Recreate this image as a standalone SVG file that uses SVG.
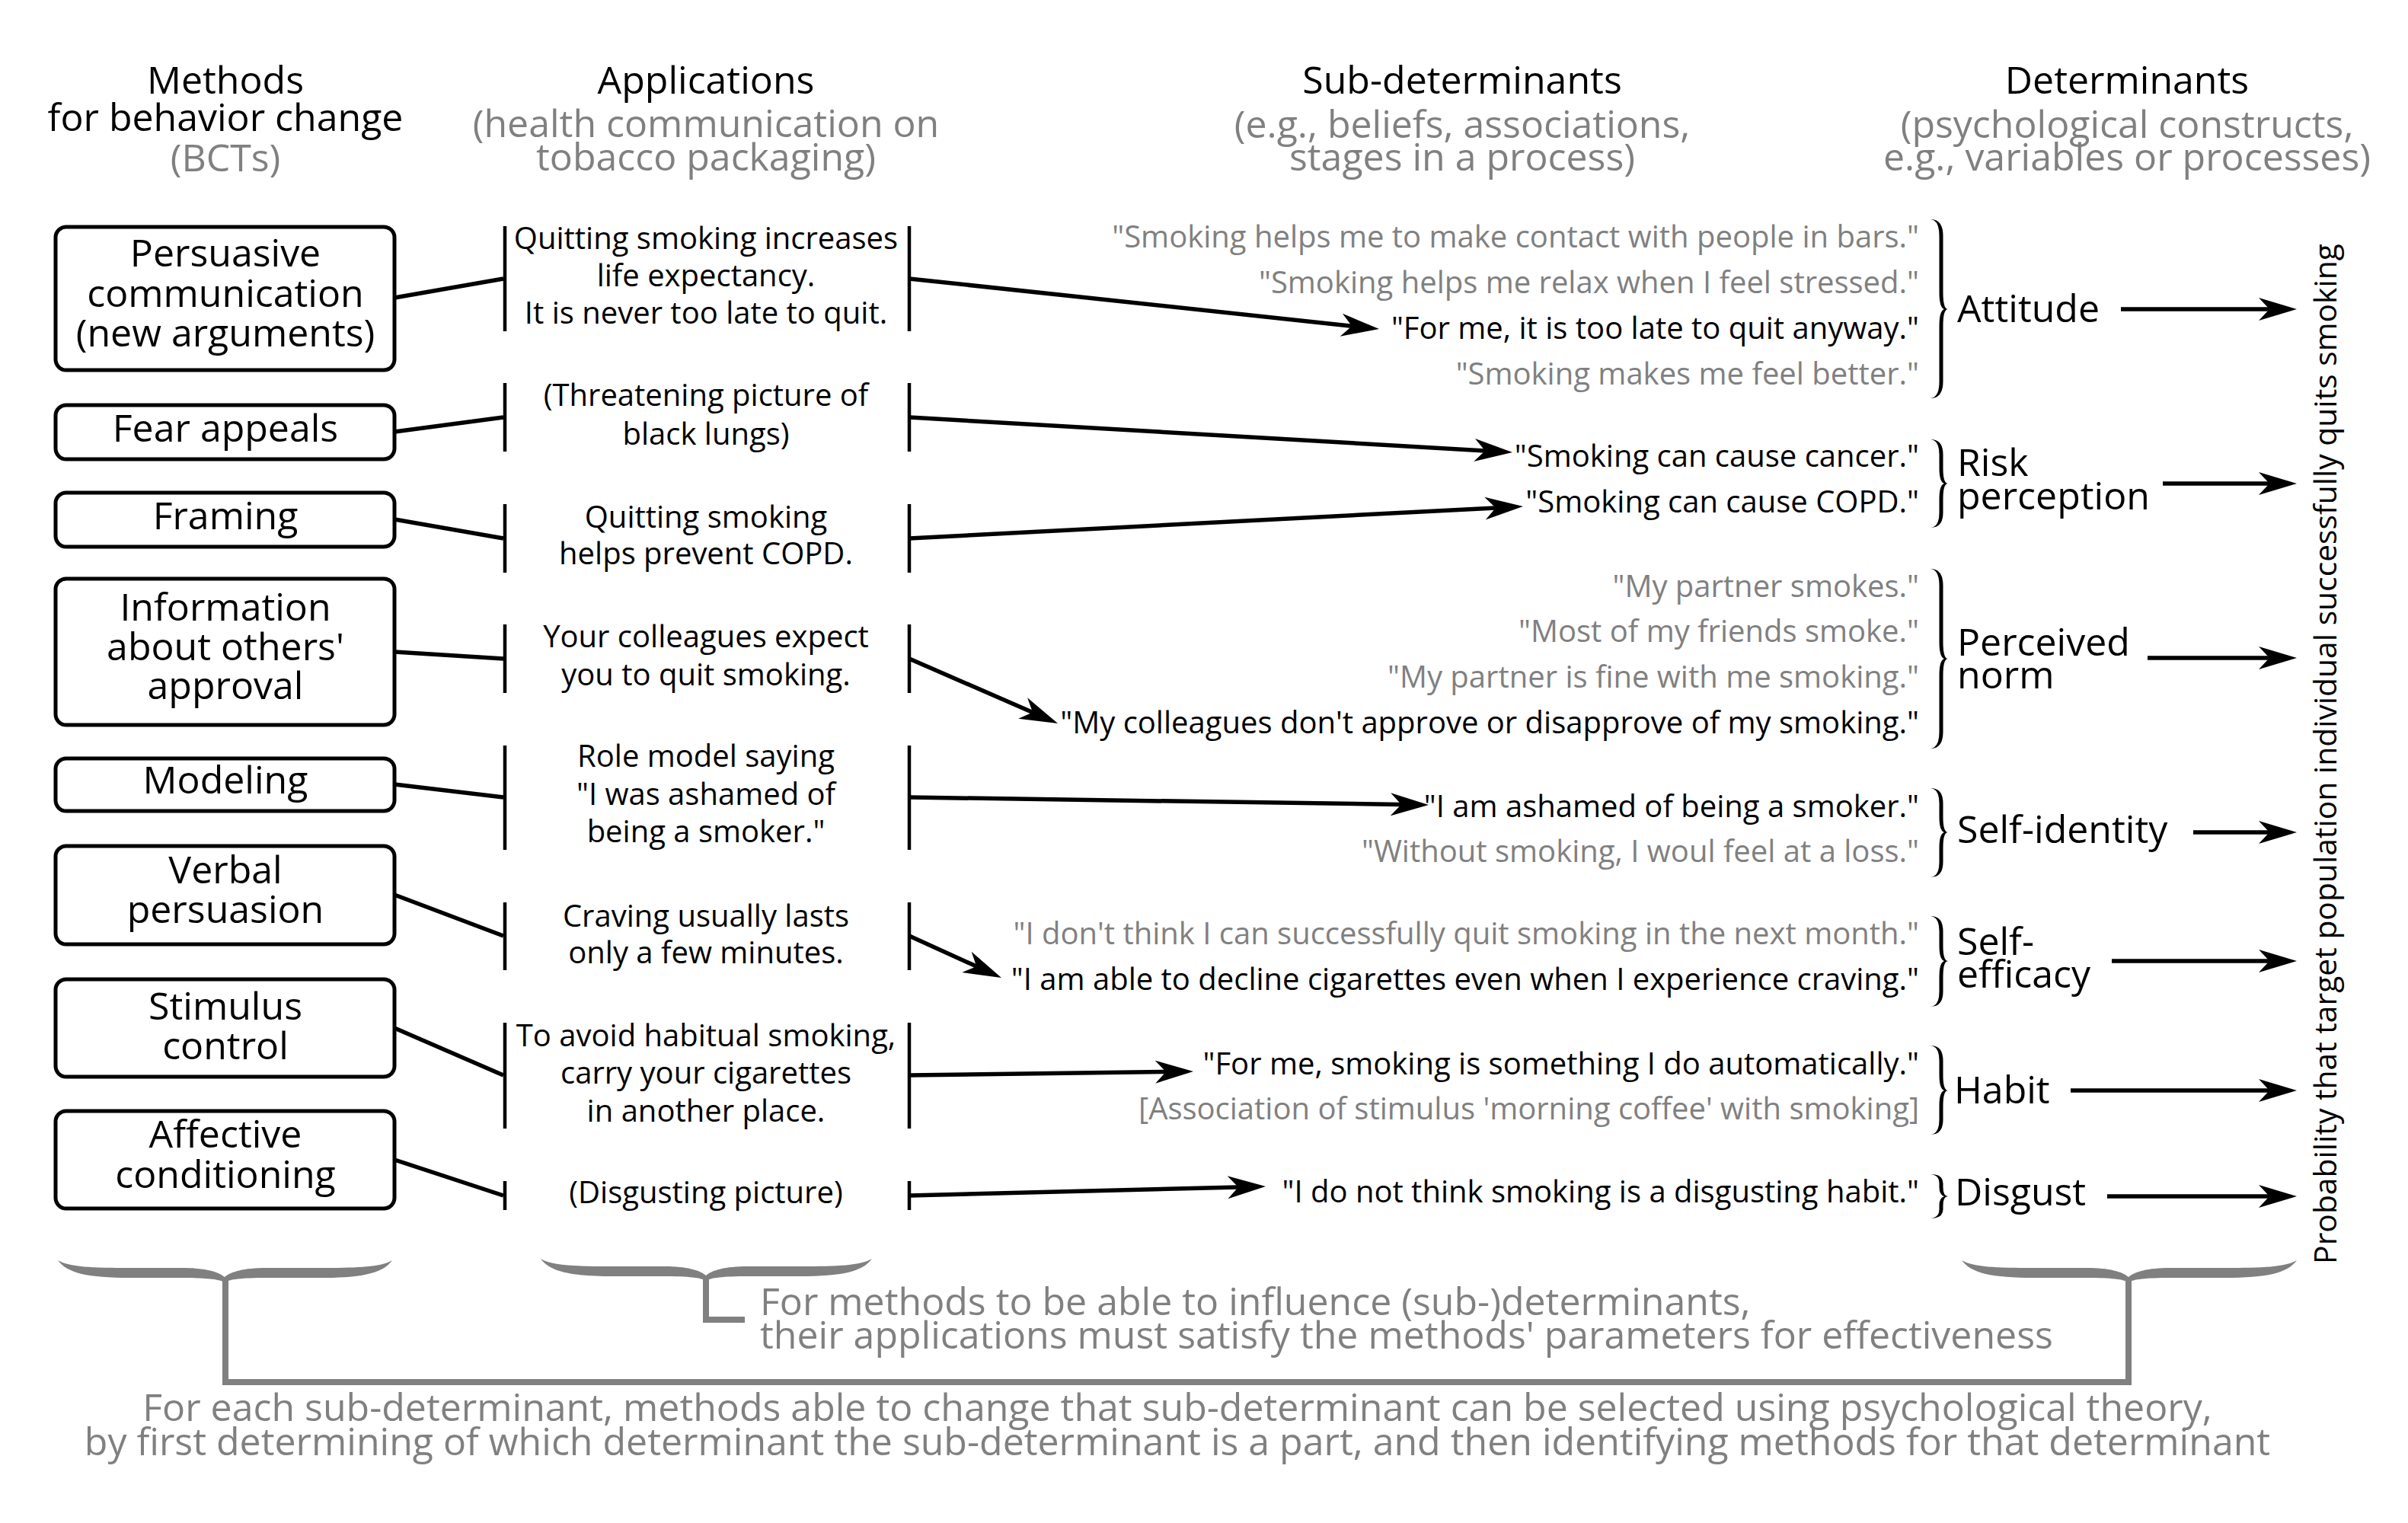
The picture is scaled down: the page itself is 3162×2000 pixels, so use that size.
<svg xmlns="http://www.w3.org/2000/svg" width="3162" height="2000" viewBox="0 0 3162 2000">
<style>
text{font-family:"Open Sans","Noto Sans",sans-serif;fill:#000}
.h{font-size:50px;text-anchor:middle}
.g{fill:#808080}
.m{font-size:50px;text-anchor:middle}
.a{font-size:40px;text-anchor:middle}
.s{font-size:40px;text-anchor:end}
.d{font-size:50px}
.box{fill:#fff;stroke:#000;stroke-width:5}
.bar{stroke:#000;stroke-width:4.5}
.ln{stroke:#000;stroke-width:5.5;fill:none}
.ar{stroke:#000;stroke-width:5.5;fill:none;marker-end:url(#ah)}
.br{fill:#000}
.gb{fill:#808080}
.gl{stroke:#808080;stroke-width:8;fill:none}
.note{font-size:50px;fill:#808080}
</style>
<defs>
<marker id="ah" markerUnits="userSpaceOnUse" markerWidth="60" markerHeight="40" refX="14" refY="20" orient="auto" viewBox="0 0 60 40">
<path d="M0,5 L50,20 L0,35 L14,20 Z" fill="#000"/>
</marker>
</defs>
<rect width="3162" height="2000" fill="#fff"/>

<g id="headings">
<text class="h" x="296" y="123">Methods</text>
<text class="h" x="296" y="172">for behavior change</text>
<text class="h g" x="296" y="225">(BCTs)</text>
<text class="h" x="927" y="123">Applications</text>
<text class="h g" x="927" y="180">(health communication on</text>
<text class="h g" x="927" y="224">tobacco packaging)</text>
<text class="h" x="1920" y="123">Sub-determinants</text>
<text class="h g" x="1920" y="181">(e.g., beliefs, associations,</text>
<text class="h g" x="1920" y="224">stages in a process)</text>
<text class="h" x="2793" y="123">Determinants</text>
<text class="h g" x="2793" y="181">(psychological constructs,</text>
<text class="h g" x="2793" y="224">e.g., variables or processes)</text>
</g>

<g id="connectors">
<line class="ln" x1="518" y1="391" x2="661" y2="366"/>
<line class="ln" x1="518" y1="567" x2="661" y2="548"/>
<line class="ln" x1="518" y1="682" x2="661" y2="707"/>
<line class="ln" x1="518" y1="856" x2="661" y2="865"/>
<line class="ln" x1="518" y1="1030" x2="661" y2="1047"/>
<line class="ln" x1="518" y1="1175" x2="661" y2="1229"/>
<line class="ln" x1="518" y1="1350" x2="661" y2="1412"/>
<line class="ln" x1="518" y1="1523" x2="661" y2="1570"/>
<line class="ar" x1="1194" y1="366" x2="1775.2" y2="428.2"/>
<line class="ar" x1="1194" y1="548" x2="1950.1" y2="591.9"/>
<line class="ar" x1="1194" y1="707" x2="1964" y2="666.9"/>
<line class="ar" x1="1194" y1="865" x2="1356" y2="935.6"/>
<line class="ar" x1="1194" y1="1047" x2="1840" y2="1056.5"/>
<line class="ar" x1="1194" y1="1229" x2="1282.2" y2="1269.1"/>
<line class="ar" x1="1194" y1="1412" x2="1531" y2="1407.5"/>
<line class="ar" x1="1194" y1="1570" x2="1626" y2="1558.9"/>
<line class="ar" x1="2785" y1="406" x2="2980" y2="406"/>
<line class="ar" x1="2840" y1="635" x2="2980" y2="635"/>
<line class="ar" x1="2820" y1="864" x2="2980" y2="864"/>
<line class="ar" x1="2880" y1="1093" x2="2980" y2="1093"/>
<line class="ar" x1="2773" y1="1262" x2="2980" y2="1262"/>
<line class="ar" x1="2719" y1="1432" x2="2980" y2="1432"/>
<line class="ar" x1="2767" y1="1571" x2="2980" y2="1571"/>
</g>

<g id="method-persuasive">
<rect class="box" x="73" y="298" width="445" height="188" rx="14"/>
<text class="m" x="296" y="350">Persuasive</text>
<text class="m" x="296" y="403">communication</text>
<text class="m" x="296" y="455">(new arguments)</text>
</g>
<g id="method-fear">
<rect class="box" x="73" y="532" width="445" height="71" rx="14"/>
<text class="m" x="296" y="580">Fear appeals</text>
</g>
<g id="method-framing">
<rect class="box" x="73" y="647" width="445" height="71" rx="14"/>
<text class="m" x="296" y="695">Framing</text>
</g>
<g id="method-information">
<rect class="box" x="73" y="760" width="445" height="192" rx="14"/>
<text class="m" x="296" y="815">Information</text>
<text class="m" x="296" y="867">about others'</text>
<text class="m" x="296" y="918">approval</text>
</g>
<g id="method-modeling">
<rect class="box" x="73" y="996" width="445" height="69" rx="14"/>
<text class="m" x="296" y="1042">Modeling</text>
</g>
<g id="method-verbal">
<rect class="box" x="73" y="1111" width="445" height="129" rx="14"/>
<text class="m" x="296" y="1160">Verbal</text>
<text class="m" x="296" y="1212">persuasion</text>
</g>
<g id="method-stimulus">
<rect class="box" x="73" y="1286" width="445" height="128" rx="14"/>
<text class="m" x="296" y="1339">Stimulus</text>
<text class="m" x="296" y="1391">control</text>
</g>
<g id="method-affective">
<rect class="box" x="73" y="1459" width="445" height="128" rx="14"/>
<text class="m" x="296" y="1507">Affective</text>
<text class="m" x="296" y="1560">conditioning</text>
</g>

<g id="app-1">
<line class="bar" x1="663" y1="297" x2="663" y2="435"/><line class="bar" x1="1194" y1="297" x2="1194" y2="435"/>
<text class="a" x="927" y="327">Quitting smoking increases</text>
<text class="a" x="927" y="376">life expectancy.</text>
<text class="a" x="927" y="425">It is never too late to quit.</text>
</g>
<g id="app-2">
<line class="bar" x1="663" y1="503" x2="663" y2="593"/><line class="bar" x1="1194" y1="503" x2="1194" y2="593"/>
<text class="a" x="927" y="533">(Threatening picture of</text>
<text class="a" x="927" y="584">black lungs)</text>
</g>
<g id="app-3">
<line class="bar" x1="663" y1="662" x2="663" y2="752"/><line class="bar" x1="1194" y1="662" x2="1194" y2="752"/>
<text class="a" x="927" y="693">Quitting smoking</text>
<text class="a" x="927" y="741">helps prevent COPD.</text>
</g>
<g id="app-4">
<line class="bar" x1="663" y1="820" x2="663" y2="910"/><line class="bar" x1="1194" y1="820" x2="1194" y2="910"/>
<text class="a" x="927" y="850">Your colleagues expect</text>
<text class="a" x="927" y="900">you to quit smoking.</text>
</g>
<g id="app-5">
<line class="bar" x1="663" y1="979" x2="663" y2="1116"/><line class="bar" x1="1194" y1="979" x2="1194" y2="1116"/>
<text class="a" x="927" y="1007">Role model saying</text>
<text class="a" x="927" y="1057">"I was ashamed of</text>
<text class="a" x="927" y="1106">being a smoker."</text>
</g>
<g id="app-6">
<line class="bar" x1="663" y1="1185" x2="663" y2="1274"/><line class="bar" x1="1194" y1="1185" x2="1194" y2="1274"/>
<text class="a" x="927" y="1217">Craving usually lasts</text>
<text class="a" x="927" y="1265">only a few minutes.</text>
</g>
<g id="app-7">
<line class="bar" x1="663" y1="1343" x2="663" y2="1482"/><line class="bar" x1="1194" y1="1343" x2="1194" y2="1482"/>
<text class="a" x="927" y="1374">To avoid habitual smoking,</text>
<text class="a" x="927" y="1423">carry your cigarettes</text>
<text class="a" x="927" y="1473">in another place.</text>
</g>
<g id="app-8">
<line class="bar" x1="663" y1="1551" x2="663" y2="1589"/><line class="bar" x1="1194" y1="1551" x2="1194" y2="1589"/>
<text class="a" x="927" y="1580">(Disgusting picture)</text>
</g>

<g id="subdet-attitude">
<text class="s g" x="2520" y="325">"Smoking helps me to make contact with people in bars."</text>
<text class="s g" x="2520" y="385">"Smoking helps me relax when I feel stressed."</text>
<text class="s" x="2520" y="445">"For me, it is too late to quit anyway."</text>
<text class="s g" x="2520" y="505">"Smoking makes me feel better."</text>
<path class="br" d="M2535,288 Q2551.5,288 2551.5,310 L2551.5,384 Q2551.5,406 2558,406 Q2551.5,406 2551.5,428 L2551.5,501 Q2551.5,523 2535,523 Q2546.5,522 2546.5,501 L2546.5,428 Q2546.5,408 2553,406 Q2546.5,404 2546.5,384 L2546.5,310 Q2546.5,289 2535,288 Z"/>
</g>
<g id="det-attitude"><text class="d" x="2570" y="423">Attitude</text></g>

<g id="subdet-risk">
<text class="s" x="2520" y="613">"Smoking can cause cancer."</text>
<text class="s" x="2520" y="673">"Smoking can cause COPD."</text>
<path class="br" d="M2535,577 Q2551.5,577 2551.5,597 L2551.5,615 Q2551.5,635 2558,635 Q2551.5,635 2551.5,655 L2551.5,673 Q2551.5,693 2535,693 Q2546.5,692 2546.5,673 L2546.5,655 Q2546.5,637 2553,635 Q2546.5,633 2546.5,615 L2546.5,597 Q2546.5,578 2535,577 Z"/>
</g>
<g id="det-risk"><text class="d" x="2570" y="625">Risk</text><text class="d" x="2570" y="669">perception</text></g>

<g id="subdet-norm">
<text class="s g" x="2520" y="784">"My partner smokes."</text>
<text class="s g" x="2520" y="843">"Most of my friends smoke."</text>
<text class="s g" x="2520" y="903">"My partner is fine with me smoking."</text>
<text class="s" x="2520" y="963">"My colleagues don't approve or disapprove of my smoking."</text>
<path class="br" d="M2535,747 Q2551.5,747 2551.5,769 L2551.5,843 Q2551.5,865 2558,865 Q2551.5,865 2551.5,887 L2551.5,961 Q2551.5,983 2535,983 Q2546.5,982 2546.5,961 L2546.5,887 Q2546.5,867 2553,865 Q2546.5,863 2546.5,843 L2546.5,769 Q2546.5,748 2535,747 Z"/>
</g>
<g id="det-norm"><text class="d" x="2570" y="861">Perceived</text><text class="d" x="2570" y="904">norm</text></g>

<g id="subdet-identity">
<text class="s" x="2520" y="1073">"I am ashamed of being a smoker."</text>
<text class="s g" x="2520" y="1132">"Without smoking, I woul feel at a loss."</text>
<path class="br" d="M2535,1035 Q2551.5,1035 2551.5,1055 L2551.5,1073 Q2551.5,1093 2558,1093 Q2551.5,1093 2551.5,1113 L2551.5,1132 Q2551.5,1152 2535,1152 Q2546.5,1151 2546.5,1132 L2546.5,1113 Q2546.5,1095 2553,1093 Q2546.5,1091 2546.5,1073 L2546.5,1055 Q2546.5,1036 2535,1035 Z"/>
</g>
<g id="det-identity"><text class="d" x="2570" y="1107">Self-identity</text></g>

<g id="subdet-efficacy">
<text class="s g" x="2520" y="1240">"I don't think I can successfully quit smoking in the next month."</text>
<text class="s" x="2520" y="1300">"I am able to decline cigarettes even when I experience craving."</text>
<path class="br" d="M2535,1203 Q2551.5,1203 2551.5,1223 L2551.5,1242 Q2551.5,1262 2558,1262 Q2551.5,1262 2551.5,1282 L2551.5,1302 Q2551.5,1322 2535,1322 Q2546.5,1321 2546.5,1302 L2546.5,1282 Q2546.5,1264 2553,1262 Q2546.5,1260 2546.5,1242 L2546.5,1223 Q2546.5,1204 2535,1203 Z"/>
</g>
<g id="det-efficacy"><text class="d" x="2570" y="1254">Self-</text><text class="d" x="2570" y="1297">efficacy</text></g>

<g id="subdet-habit">
<text class="s" x="2520" y="1411">"For me, smoking is something I do automatically."</text>
<text class="s g" x="2520" y="1470">[Association of stimulus 'morning coffee' with smoking]</text>
<path class="br" d="M2535,1373 Q2551.5,1373 2551.5,1393 L2551.5,1412 Q2551.5,1432 2558,1432 Q2551.5,1432 2551.5,1452 L2551.5,1470 Q2551.5,1490 2535,1490 Q2546.5,1489 2546.5,1470 L2546.5,1452 Q2546.5,1434 2553,1432 Q2546.5,1430 2546.5,1412 L2546.5,1393 Q2546.5,1374 2535,1373 Z"/>
</g>
<g id="det-habit"><text class="d" x="2566" y="1449">Habit</text></g>

<g id="subdet-disgust">
<text class="s" x="2520" y="1579">"I do not think smoking is a disgusting habit."</text>
<path class="br" d="M2535,1542 Q2551.5,1542 2551.5,1554 L2551.5,1559 Q2551.5,1571 2558,1571 Q2551.5,1571 2551.5,1583 L2551.5,1588 Q2551.5,1600 2535,1600 Q2546.5,1599 2546.5,1588 L2546.5,1583 Q2546.5,1573 2553,1571 Q2546.5,1569 2546.5,1559 L2546.5,1554 Q2546.5,1543 2535,1542 Z"/>
</g>
<g id="det-disgust"><text class="d" x="2567" y="1583">Disgust</text></g>

<g id="outcome">
<text transform="translate(3068,990) rotate(-90)" style="font-size:40.8px;text-anchor:middle">Probability that target population individual successfully quits smoking</text>
</g>

<g id="bottom-notes">
<path class="gb" d="M76,1655 C88,1672 116,1678 171,1678 L240,1678 C273,1678 289,1680 295,1684 C301,1680 317,1678 350,1678 L420,1678 C475,1678 503,1672 515,1655 C500,1664 470,1665 420,1665 L350,1665 C320,1665 303,1670 295,1677 C287,1670 270,1665 240,1665 L171,1665 C121,1665 91,1664 76,1655 Z"/>
<path class="gb" d="M710,1653 C722,1670 750,1676 805,1676 L872,1676 C905,1676 921,1678 927,1682 C933,1678 949,1676 982,1676 L1050,1676 C1105,1676 1133,1670 1145,1653 C1130,1662 1100,1663 1050,1663 L982,1663 C952,1663 935,1668 927,1675 C919,1668 902,1663 872,1663 L805,1663 C755,1663 725,1662 710,1653 Z"/>
<path class="gb" d="M2576,1655 C2588,1672 2616,1678 2671,1678 L2740,1678 C2773,1678 2789,1680 2795,1684 C2801,1680 2817,1678 2850,1678 L2921,1678 C2976,1678 3004,1672 3016,1655 C3001,1664 2971,1665 2921,1665 L2850,1665 C2820,1665 2803,1670 2795,1677 C2787,1670 2770,1665 2740,1665 L2671,1665 C2621,1665 2591,1664 2576,1655 Z"/>
<polyline class="gl" points="927,1680 927,1733 978,1733"/>
<polyline class="gl" points="296,1680 296,1815 2795,1815 2795,1680"/>
<text class="note" x="998" y="1727">For methods to be able to influence (sub-)determinants,</text>
<text class="note" x="998" y="1771">their applications must satisfy the methods' parameters for effectiveness</text>
<text class="note" x="1546" y="1866" text-anchor="middle">For each sub-determinant, methods able to change that sub-determinant can be selected using psychological theory,</text>
<text class="note" x="1546" y="1911" text-anchor="middle">by first determining of which determinant the sub-determinant is a part, and then identifying methods for that determinant</text>
</g>
</svg>
